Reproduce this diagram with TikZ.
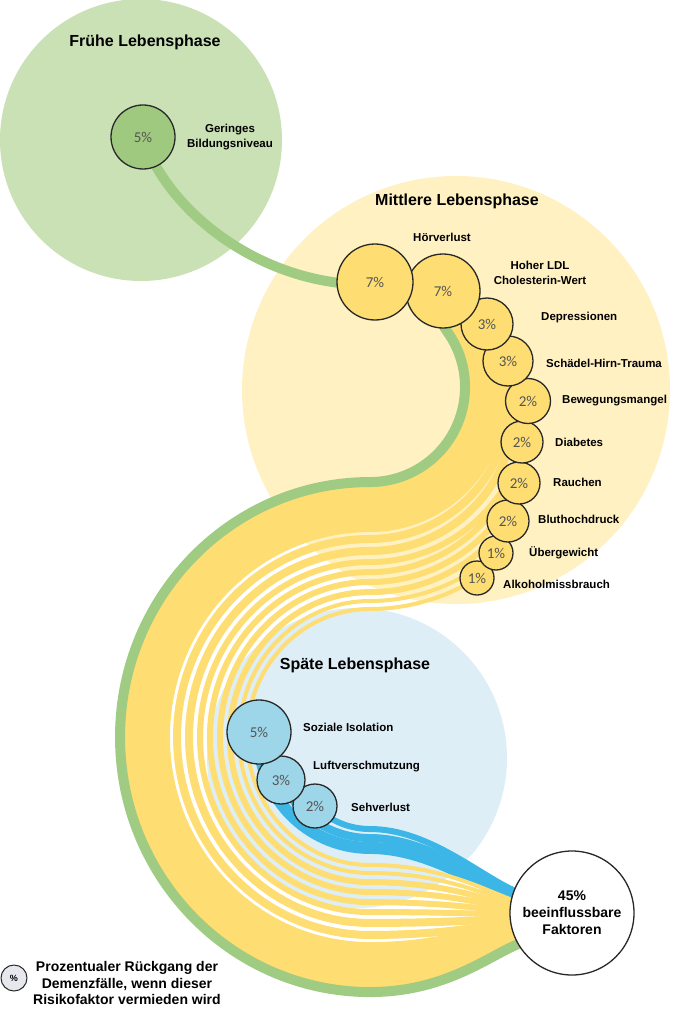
\documentclass[tikz,border=0pt]{standalone}
\usepackage{fontspec}
\setmainfont{Liberation Sans}
\newfontfamily\pctfont{Carlito}
\usetikzlibrary{calc}

\definecolor{fruehbg}{RGB}{202,225,182}
\definecolor{mittelbg}{RGB}{255,241,194}
\definecolor{spaetbg}{RGB}{222,238,246}
\definecolor{greenflow}{RGB}{160,203,130}
\definecolor{greenfac}{RGB}{158,201,126}
\definecolor{yellowflow}{RGB}{254,221,114}
\definecolor{blueflow}{RGB}{59,182,230}
\definecolor{bluefac}{RGB}{157,214,232}
\definecolor{rimgray}{RGB}{40,40,40}
\definecolor{pctgray}{RGB}{85,85,85}
\definecolor{legendfill}{RGB}{230,232,238}

\pgfdeclarelayer{phases}
\pgfdeclarelayer{flows}
\pgfsetlayers{phases,flows,main}

% colour, width, start node, start angle, radius, offset, end y
\newcommand{\tikzStrand}[7]{
  \pgfmathsetmacro{\strandRx}{250-#6}
  \pgfmathsetmacro{\strandRy}{255-#6}
  \draw[line width=#2, draw=#1] (#3.center) arc[start angle=#4, end angle=90, radius=#5]
    arc[start angle=-90, end angle=-270, x radius=\strandRx, y radius=\strandRy]
    .. controls +(90,0) and +(-30,0) .. (535,#7);
}
% width, start node, start angle, radius, end y
\newcommand{\tikzBlueStrand}[5]{
  \draw[line width=#1, draw=blueflow] (#2.center) arc[start angle=#3, end angle=90, radius=#4]
    .. controls +(70,0) and +(-35,0) .. (535,#5);
}

\begin{document}
\begin{tikzpicture}[x=1pt, y=-1pt, line join=round,
  phase/.style={circle, inner sep=0pt},
  fac/.style={circle, draw=rimgray, line width=1.3, inner sep=0pt, text=pctgray,
    font=\pctfont\fontsize{15}{15}\selectfont},
  lbl/.style={inner sep=0pt, font=\bfseries\fontsize{11.5}{15}\selectfont},
  phasetitle/.style={inner sep=0pt, font=\bfseries\fontsize{16}{19}\selectfont}]
  \useasboundingbox (0,0) rectangle (678,1024);

  \begin{pgfonlayer}{phases}
    \node[phase, fill=fruehbg, minimum size=282] (frueh) at (141,140) {};
    \node[phase, fill=mittelbg, minimum size=428] (mittel) at (456,390) {};
    \node[phase, fill=spaetbg, minimum size=300] (spaet) at (357,758) {};
  \end{pgfonlayer}

  \node[phasetitle] (fruehtitle) at (145,42) {Frühe Lebensphase};
  \node[phasetitle] (mitteltitle) at (457,201) {Mittlere Lebensphase};
  \node[phasetitle] (spaettitle) at (355,665) {Späte Lebensphase};

  % early life
  \node[fac, fill=greenfac, minimum size=64] (fruehfac) at (143,137) {5\%};
  \node[lbl, align=center] (fruehlbl) at (230,137) {Geringes\\Bildungsniveau};

  % midlife, last one first so that the chain overlaps upwards
  \node[fac, fill=yellowflow, minimum size=34] (alk) at (477,578) {1\%};
  \node[fac, fill=yellowflow, minimum size=34] (ueber) at (496,553) {1\%};
  \node[fac, fill=yellowflow, minimum size=42] (blut) at (508,521) {2\%};
  \node[fac, fill=yellowflow, minimum size=42] (rauch) at (519,483) {2\%};
  \node[fac, fill=yellowflow, minimum size=42] (diab) at (522,442) {2\%};
  \node[fac, fill=yellowflow, minimum size=45] (bewe) at (528,401) {2\%};
  \node[fac, fill=yellowflow, minimum size=50] (sht) at (508,361) {3\%};
  \node[fac, fill=yellowflow, minimum size=52] (depr) at (487,324) {3\%};
  \node[fac, fill=yellowflow, minimum size=74] (ldl) at (443,291) {7\%};
  \node[fac, fill=yellowflow, minimum size=76] (hoer) at (375,282) {7\%};

  \node[lbl] (hoerlbl) at (442,237) {Hörverlust};
  \node[lbl, align=center] (ldllbl) at (540,273) {Hoher LDL\\Cholesterin-Wert};
  \node[lbl, anchor=west] (deprlbl) at (541,318) {Depressionen};
  \node[lbl, anchor=west] (shtlbl) at (546,363) {Schädel-Hirn-Trauma};
  \node[lbl, anchor=west] (bewelbl) at (562,401) {Bewegungsmangel};
  \node[lbl, anchor=west] (diablbl) at (555,442) {Diabetes};
  \node[lbl, anchor=west] (rauchlbl) at (553,482) {Rauchen};
  \node[lbl, anchor=west] (blutlbl) at (538,519) {Bluthochdruck};
  \node[lbl, anchor=west] (ueberlbl) at (529,553) {Übergewicht};
  \node[lbl, anchor=west] (alklbl) at (503,584) {Alkoholmissbrauch};

  % late life
  \node[fac, fill=bluefac, minimum size=44] (seh) at (315,806) {2\%};
  \node[fac, fill=bluefac, minimum size=48] (luft) at (281,780) {3\%};
  \node[fac, fill=bluefac, minimum size=64] (isol) at (259,732) {5\%};

  \node[lbl, anchor=west] (isollbl) at (303,727) {Soziale Isolation};
  \node[lbl, anchor=west] (luftlbl) at (313,767) {Luftverschmutzung};
  \node[lbl, anchor=west] (sehlbl) at (351,807) {Sehverlust};

  \node[fac, fill=white, minimum size=124, text=black, align=center,
    font=\bfseries\fontsize{14}{17}\selectfont] (total) at (572,913) {45\%\\beeinflussbare\\Faktoren};

  % legend
  \node[fac, fill=legendfill, minimum size=26, line width=1, text=black,
    font=\bfseries\fontsize{9}{9}\selectfont] (legpct) at (14,978) {\%};
  \node[inner sep=0pt, align=center, font=\bfseries\fontsize{14}{16.5}\selectfont]
    (legend) at (127,983) {Prozentualer Rückgang der\\Demenzfälle, wenn dieser\\Risikofaktor vermieden wird};

  \begin{pgfonlayer}{flows}
    \tikzBlueStrand{12}{isol}{182.5}{111.1}{902}
    \tikzBlueStrand{8}{luft}{156.2}{97.3}{899}
    \tikzBlueStrand{6}{seh}{135.4}{77.3}{896}

    \tikzStrand{yellowflow}{4}{alk}{57.7}{200.2}{127}{905}
    \tikzStrand{yellowflow}{4}{ueber}{48.3}{189.4}{119}{907}
    \tikzStrand{yellowflow}{6}{blut}{35.5}{169.6}{110}{909}
    \tikzStrand{yellowflow}{6}{rauch}{22.8}{161.6}{100}{911}
    \tikzStrand{yellowflow}{6}{diab}{8.9}{153.9}{90}{913}
    \tikzStrand{yellowflow}{6}{bewe}{-1.1}{158.0}{80}{915}
    \tikzStrand{yellowflow}{8}{sht}{-18.0}{145.1}{69}{918}
    \tikzStrand{yellowflow}{8}{depr}{-32.9}{139.3}{57}{921}
    \tikzStrand{yellowflow}{23}{ldl}{-54.7}{126.4}{38.5}{926}
    \tikzStrand{yellowflow}{23}{hoer}{-87.3}{108.1}{16}{932}

    \draw[line width=10, draw=greenflow] (fruehfac.center)
      .. controls (165,205) and (245,272) .. (340,283)
      .. controls (400,280) and (428,300) .. (446.3,330.4)
      arc[start angle=-36.6, end angle=90, radius=95]
      arc[start angle=-90, end angle=-270, x radius=250, y radius=255]
      .. controls +(90,0) and +(-30,0) .. (535,940);
  \end{pgfonlayer}
\end{tikzpicture}
\end{document}
